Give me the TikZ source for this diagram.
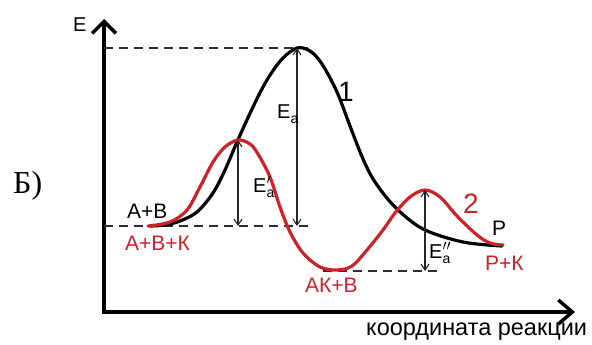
\documentclass[tikz,border=0pt]{standalone}
\usepackage{amsmath}
\usepackage{fontspec}
\setmainfont{Liberation Sans}
\newfontfamily\cyrserif{Liberation Serif}
\usetikzlibrary{arrows.meta}
\definecolor{catred}{RGB}{204,34,41}
\definecolor{guidegray}{RGB}{45,45,45}
\newcommand\actE[1]{E$^{#1}_{\text{a}}$}

\begin{document}
\begin{tikzpicture}[x=1pt, y=-1pt,
    axis/.style={line width=4pt, line join=miter, {Straight Barb[length=12pt,width=24pt,line width=3.5pt]}-{Straight Barb[length=14pt,width=24pt,line width=3.5pt]}},
    curve/.style={line width=3.2pt, line cap=round},
    barrier/.style={line width=1.1pt, draw=black!85, {Straight Barb[length=6pt,width=8pt]}-{Straight Barb[length=6pt,width=8pt]}},
    guide/.style={line width=1.4pt, draw=guidegray, dash pattern=on 9pt off 6pt},
    lab/.style={inner sep=0pt, anchor=base west, font=\fontsize{21}{25}\selectfont},
    elab/.style={inner sep=0pt, anchor=base west, font=\fontsize{20}{24}\selectfont}]

    \useasboundingbox (0,0) rectangle (592,345);

    % Axes
    \coordinate (origin) at (104,312);
    \coordinate (ytip) at (104,19);
    \coordinate (xtip) at (575,312);
    \draw[axis] (ytip) -- (origin) -- (xtip);
    \node[lab, font=\fontsize{20}{24}\selectfont] (elabel) at (73,32) {E};
    \node[lab, font=\fontsize{23.5}{27}\selectfont] (xlabel) at (366,335) {координата реакции};

    % Key levels
    \coordinate (peak1) at (297,48);
    \coordinate (peak2a) at (238,140);
    \coordinate (peak2b) at (425,190);
    \coordinate (base1) at (297,226);
    \coordinate (base2) at (238,226);
    \coordinate (base3) at (425,271);

    % Guide lines
    \coordinate (top_l) at (104,48);
    \coordinate (top_r) at (313,48);
    \coordinate (mid_l) at (104,226);
    \coordinate (mid_r) at (312,226);
    \coordinate (low_l) at (323,271);
    \coordinate (low_r) at (440,271);
    \draw[guide] (top_l) -- (top_r);
    \draw[guide] (mid_l) -- (mid_r);
    \draw[guide] (low_l) -- (low_r);

    % Curve 1 (no catalyst)
    \draw[curve, black] plot[smooth, tension=0.55] coordinates {(150,226) (165,225) (180,221) (197,212) (213,193) (225,170) (237,142) (253,107) (267,80) (282,59) (297,48) (310,51) (322,64) (337,92) (350,126) (363,159) (375,182) (395,207) (423,229) (463,242) (502,246)};

    % Curve 2 (with catalyst)
    \draw[curve, catred] plot[smooth, tension=0.55] coordinates {(148,226) (170,222) (187,210) (200,187) (213,162) (225,147) (238,140) (250,144) (258,154) (270,177) (280,207) (290,232) (303,253) (320,267) (337,270) (352,266) (367,250) (383,230) (395,213) (410,197) (425,190) (440,197) (457,216) (477,235) (490,243) (503,245)};

    % Activation energies
    \draw[barrier] (base1) -- (peak1);
    \draw[barrier] (base2) -- (peak2a);
    \draw[barrier] (base3) -- (peak2b);
    \node[elab] (ea1) at (277,118) {\actE{}};
    \node[elab] (ea2) at (253,192) {\actE{\prime}};
    \node[elab] (ea3) at (429,258) {\actE{\prime\prime}};

    % Labels
    \node[lab, font=\fontsize{28}{32}\selectfont] (num1) at (338,102) {1};
    \node[lab, font=\fontsize{28}{32}\selectfont, text=catred] (num2) at (463,213) {2};
    \node[lab] (reac) at (127,218) {А+В};
    \node[lab, text=catred] (reaccat) at (125,250) {А+В+К};
    \node[lab, text=catred] (inter) at (305,292) {АК+В};
    \node[lab] (prod) at (492,235) {Р};
    \node[lab, text=catred] (prodcat) at (485,270) {Р+К};
    \node[lab, font=\cyrserif\fontsize{32}{36}\selectfont] (part) at (13,193) {Б)};
\end{tikzpicture}
\end{document}
